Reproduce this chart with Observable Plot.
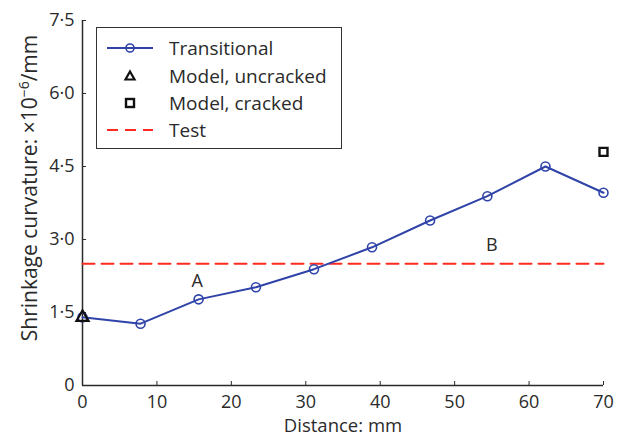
<!DOCTYPE html>
<html>
<head>
<meta charset="utf-8">
<script src="https://cdn.jsdelivr.net/npm/d3@7"></script>
<script src="https://cdn.jsdelivr.net/npm/@observablehq/plot@0.6"></script>
<style>
  html, body { margin: 0; padding: 0; background: #fff; }
  #wrap { position: relative; width: 630px; height: 437px; font-family: "Open Sans", sans-serif; color: #2a2a2a; }
  #legend { position: absolute; left: 96px; top: 27px; width: 244px; height: 120px; border: 1px solid #333; background: #fff; }
  .row { position: absolute; left: 0; height: 26px; width: 244px; }
  .row svg { position: absolute; left: 8px; top: 0; }
  .row span { position: absolute; left: 72px; top: 0; line-height: 26px; font-size: 19px; white-space: nowrap; }
  #ylabel { position: absolute; left: 29px; top: 188px; transform: translate(-50%, -50%) rotate(-90deg); font-size: 21px; white-space: nowrap; line-height: 1; }
  #ylabel sup { font-size: 14px; vertical-align: 0; position: relative; top: -8px; }
</style>
</head>
<body>
<div id="wrap"></div>
<script>
// Data
const distance = [0, 7.8, 15.6, 23.3, 31.1, 38.9, 46.7, 54.4, 62.2, 70];
const transitional = [1.40, 1.27, 1.77, 2.02, 2.39, 2.84, 3.39, 3.89, 4.50, 3.96];
const modelUncracked = [{x: 0, y: 1.4}];
const modelCracked = [{x: 70, y: 4.8}];
const testValue = 2.5;
const testRange = [0, 70];
const annotations = [{x: 15.4, y: 2.15, label: "A"}, {x: 55, y: 2.88, label: "B"}];
const xTicks = [0, 10, 20, 30, 40, 50, 60, 70];
const xTickLabels = ["0", "10", "20", "30", "40", "50", "60", "70"];
const yTicks = [0, 1.5, 3, 4.5, 6, 7.5];
const yTickLabels = ["0", "1·5", "3·0", "4·5", "6·0", "7·5"];
const xLabel = "Distance: mm";
const yLabelMain = "Shrinkage curvature: \u00d710";
const yLabelExp = "\u22126";
const yLabelUnit = "/mm";
const legendItems = ["Transitional", "Model, uncracked", "Model, cracked", "Test"];

const blue = "#2f43a8";
const red = "#ff2a1f";
const ink = "#2a2a2a";

const series = distance.map((d, i) => ({x: d, y: transitional[i]}));
const testLine = testRange.map(x => ({x, y: testValue}));

const chart = Plot.plot({
  width: 630,
  height: 437,
  marginLeft: 82,
  marginRight: 27,
  marginTop: 20,
  marginBottom: 52,
  style: {fontFamily: "Open Sans, sans-serif", fontSize: "18px", color: ink, background: "transparent", overflow: "visible"},
  x: {domain: [0, 70]},
  y: {domain: [0, 7.5]},
  marks: [
    Plot.axisX({ticks: xTicks, tickFormat: (d) => xTickLabels[xTicks.indexOf(d)], tickSize: -4, tickPadding: 14, label: null, stroke: ink, fill: ink}),
    Plot.axisY({ticks: yTicks, tickFormat: (d) => yTickLabels[yTicks.indexOf(d)], tickSize: -4, tickPadding: 12, label: null, stroke: ink, fill: ink}),
    Plot.ruleX([0], {stroke: ink, strokeWidth: 1.5}),
    Plot.ruleY([0], {stroke: ink, strokeWidth: 1.5}),
    Plot.line(testLine, {x: "x", y: "y", stroke: red, strokeWidth: 2, strokeDasharray: "12,7"}),
    Plot.line(series, {x: "x", y: "y", stroke: blue, strokeWidth: 2}),
    Plot.dot(series, {x: "x", y: "y", r: 4.5, stroke: blue, strokeWidth: 1.6, fill: "none"}),
    Plot.dot(modelUncracked, {x: "x", y: "y", symbol: "triangle", r: 4.5, stroke: "#111", strokeWidth: 2.2, fill: "none"}),
    Plot.dot(modelCracked, {x: "x", y: "y", symbol: "square", r: 4.5, stroke: "#111", strokeWidth: 2.4, fill: "none"}),
    Plot.text(annotations, {x: "x", y: "y", text: "label", fontSize: 18, fill: ink}),
    Plot.text([xLabel], {frameAnchor: "bottom", lineAnchor: "middle", dy: 41, fontSize: 18.5, fill: ink})
  ]
});

const wrap = document.getElementById("wrap");
wrap.appendChild(chart);

// Y axis label (HTML so the exponent can be a true superscript)
const yl = document.createElement("div");
yl.id = "ylabel";
yl.innerHTML = `${yLabelMain}<sup>${yLabelExp}</sup>${yLabelUnit}`;
wrap.appendChild(yl);

// Legend
const legend = document.createElement("div");
legend.id = "legend";
const symbols = [
  `<svg width="60" height="26"><line x1="2" y1="13" x2="48" y2="13" stroke="${blue}" stroke-width="2"/><circle cx="25" cy="13" r="4" fill="none" stroke="${blue}" stroke-width="1.6"/></svg>`,
  `<svg width="60" height="26"><path d="M25,8.5 L29.5,16.5 L20.5,16.5 Z" fill="none" stroke="#111" stroke-width="2.2" stroke-linejoin="miter"/></svg>`,
  `<svg width="60" height="26"><rect x="21" y="9" width="8" height="8" fill="none" stroke="#111" stroke-width="2.4"/></svg>`,
  `<svg width="60" height="26"><line x1="2" y1="13" x2="48" y2="13" stroke="${red}" stroke-width="2" stroke-dasharray="11,7"/></svg>`
];
const tops = [7, 35, 62, 89];
legendItems.forEach((name, i) => {
  const row = document.createElement("div");
  row.className = "row";
  row.style.top = tops[i] + "px";
  row.innerHTML = symbols[i] + `<span>${name}</span>`;
  legend.appendChild(row);
});
wrap.appendChild(legend);
</script>
</body>
</html>
